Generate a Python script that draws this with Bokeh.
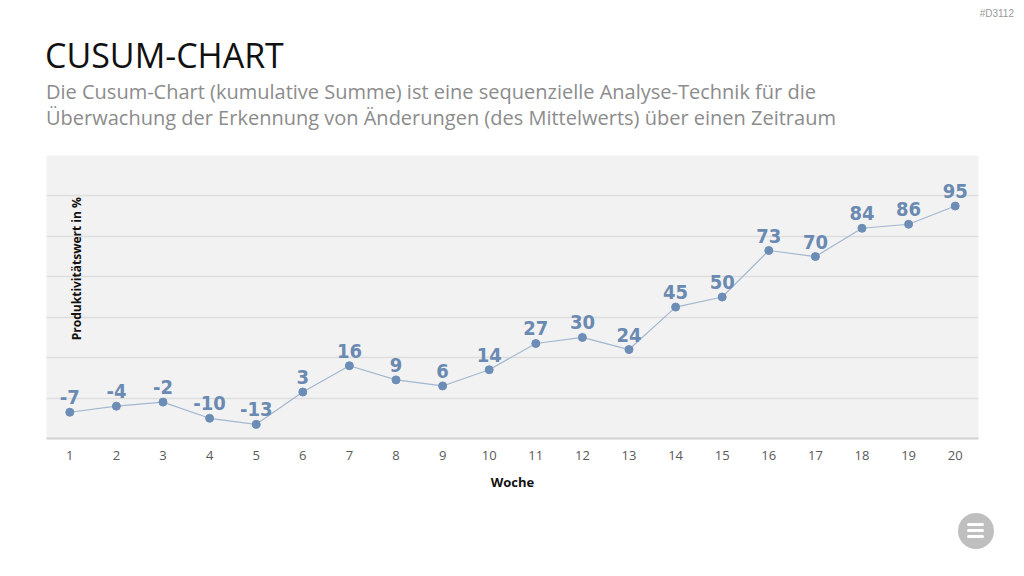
from bokeh.plotting import figure
from bokeh.layouts import column
from bokeh.models import Label, Range1d, FixedTicker, ColumnDataSource, Div
from bokeh.embed import file_html
from bokeh.resources import INLINE
from bokeh.core.properties import value
import math

# Weekly cumulative-sum values
weeks = list(range(1, 21))
cusum = [-7, -4, -2, -10, -13, 3, 16, 9, 6, 14, 27, 30, 24, 45, 50, 73, 70, 84, 86, 95]
y_ticks = [-20, 0, 20, 40, 60, 80, 100, 120]

title = "CUSUM-CHART"
subtitle = ["Die Cusum-Chart (kumulative Summe) ist eine sequenzielle Analyse-Technik für die",
            "Überwachung der Erkennung von Änderungen (des Mittelwerts) über einen Zeitraum"]
slide_id = "#D3112"

W = 1024
HEAD_H = 145
FIG_H = 353
FOOT_H = 576 - HEAD_H - FIG_H

# ---- heading block -------------------------------------------------------
head_html = f"""
<div style="position:relative;width:{W}px;height:{HEAD_H}px;margin:0;padding:0;">
  <div style="position:absolute;right:10px;top:9px;font:10px 'Liberation Sans',sans-serif;
              color:#9a9a9a;line-height:10px;white-space:nowrap;">{slide_id}</div>
  <div style="position:absolute;left:45px;top:38px;font:34px 'Open Sans',sans-serif;
              color:#111111;line-height:34px;white-space:nowrap;">{title}</div>
  <div style="position:absolute;left:46px;top:79px;font:20px 'Open Sans',sans-serif;
              color:#8c8c8c;line-height:26px;white-space:nowrap;">{subtitle[0]}<br>{subtitle[1]}</div>
</div>
"""
head = Div(text=head_html, width=W, height=HEAD_H, margin=0)

# ---- chart ----------------------------------------------------------------
src = ColumnDataSource(dict(x=weeks, y=cusum, lbl=[str(v) for v in cusum]))

p = figure(width=W, height=FIG_H, output_backend="svg", toolbar_location=None,
           x_range=Range1d(0.5, 20.5), y_range=Range1d(-20, 120),
           min_border_left=46, min_border_right=46,
           min_border_top=10, min_border_bottom=60, margin=0)
p.outline_line_color = None
p.background_fill_color = "#f2f2f2"
p.border_fill_color = "white"

xa = p.xaxis[0]
xa.ticker = FixedTicker(ticks=weeks)
xa.axis_line_color = "#d0d0d0"
xa.axis_line_width = 2
xa.major_tick_line_color = None
xa.minor_tick_line_color = None
xa.major_label_text_font = "Open Sans"
xa.major_label_text_font_size = "13px"
xa.major_label_text_color = "#595959"
xa.major_label_standoff = 6
xa.axis_label = "Woche"
xa.axis_label_text_font = "Open Sans"
xa.axis_label_text_font_style = "bold"
xa.axis_label_text_font_size = "13px"
xa.axis_label_text_color = "#111111"
xa.axis_label_standoff = 10

p.yaxis[0].visible = False
p.ygrid.ticker = FixedTicker(ticks=y_ticks)
p.ygrid.grid_line_color = "#dedede"
p.ygrid.grid_line_width = 1.5
p.xgrid.grid_line_color = None

p.line("x", "y", source=src, line_color="#a3b7cf", line_width=1.2)
p.scatter("x", "y", source=src, size=8, fill_color="#6c8db6", line_color="#6c8db6")
p.text("x", "y", text="lbl", source=src, y_offset=-15,
       text_align="center", text_baseline="alphabetic",
       text_font=value("'DejaVu Sans Condensed', 'Roboto Condensed', Roboto, sans-serif"),
       text_font_style="bold", text_font_size="20px", text_color="#6a8ab2")

# rotated value-axis title inside the plot area
p.add_layout(Label(x=1.14, y=64, text="Produktivitätswert in %", angle=math.pi / 2,
                   text_align="center", text_baseline="middle",
                   text_font="Open Sans", text_font_style="bold",
                   text_font_size="12px", text_color="#111111"))

# ---- footer with menu button ---------------------------------------------
bar = "position:absolute;left:9px;width:17px;height:3px;border-radius:2px;background:#ffffff;"
foot_html = f"""
<div style="position:relative;width:{W}px;height:{FOOT_H}px;margin:0;padding:0;">
  <div style="position:absolute;left:958px;top:15px;width:36px;height:36px;border-radius:50%;
              background:#bfbfbf;">
    <div style="{bar}top:10px;"></div>
    <div style="{bar}top:16px;"></div>
    <div style="{bar}top:22px;"></div>
  </div>
</div>
"""
foot = Div(text=foot_html, width=W, height=FOOT_H, margin=0)

layout = column(head, p, foot, spacing=0)
open("out.html", "w").write(file_html(layout, INLINE))
